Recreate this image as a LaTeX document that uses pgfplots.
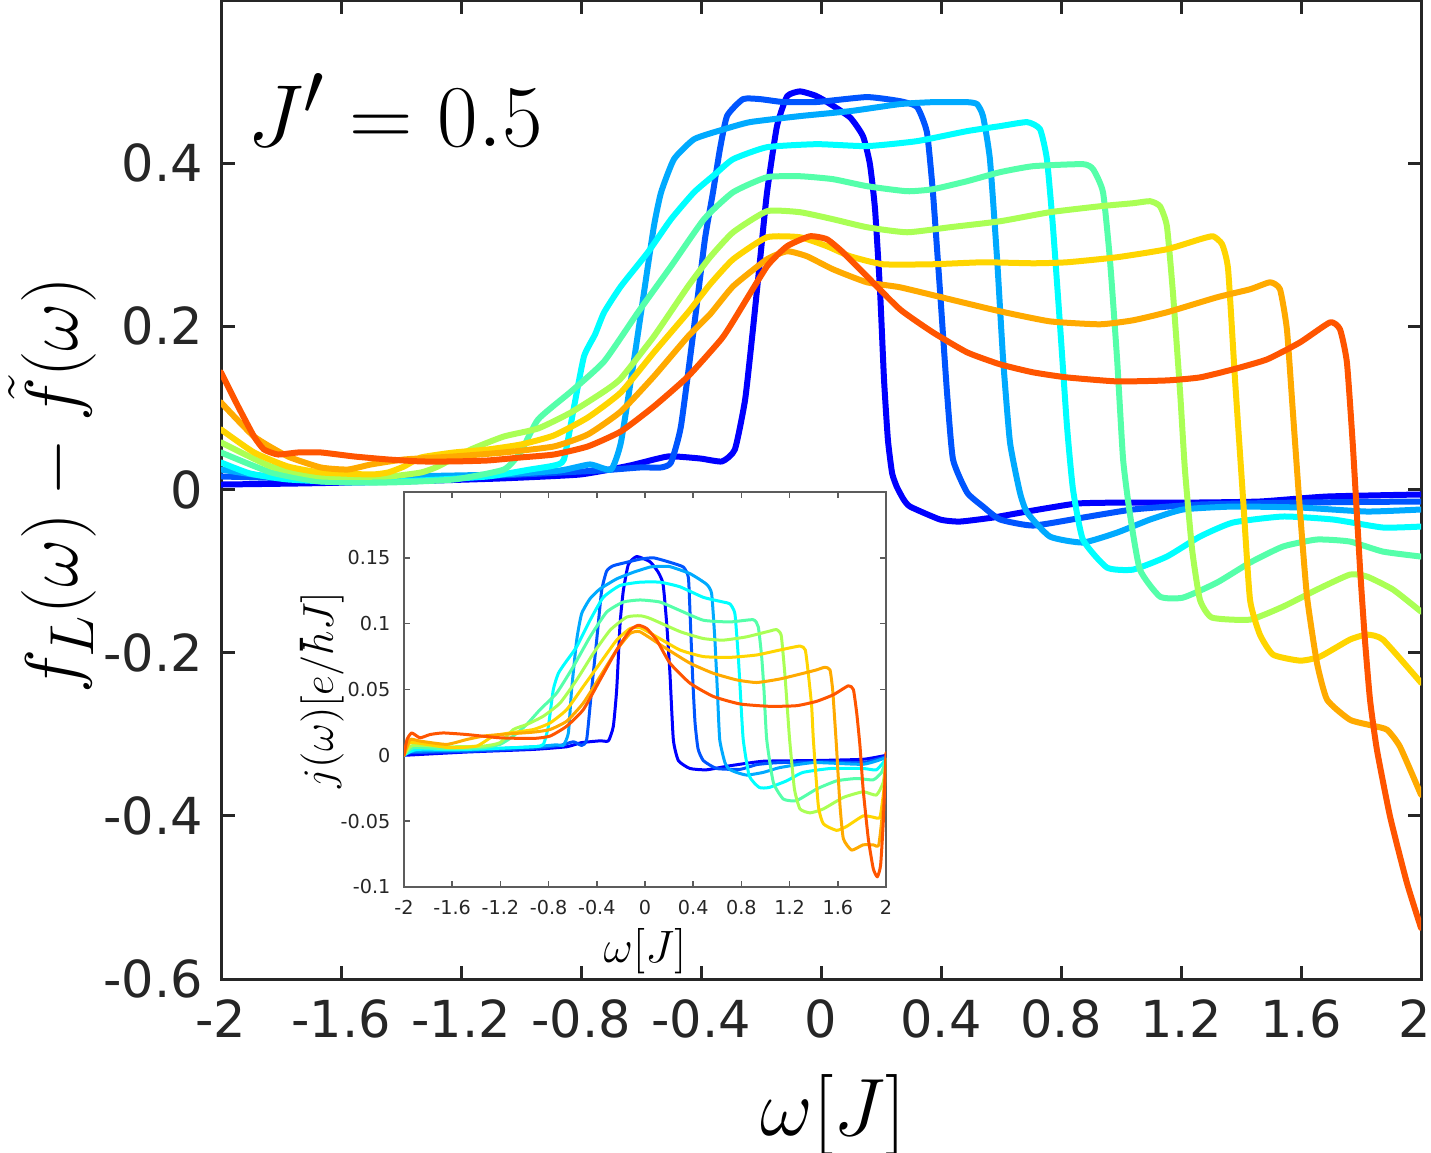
\documentclass[border=0pt]{standalone}
\usepackage{fontspec}
\setmainfont{DejaVu Sans}
\usepackage{pgfplots}
\pgfplotsset{compat=1.18}

\definecolor{axgray}{HTML}{262626}
\definecolor{c1}{RGB}{0,0,255}
\definecolor{c2}{RGB}{0,85,255}
\definecolor{c3}{RGB}{0,170,255}
\definecolor{c4}{RGB}{0,255,255}
\definecolor{c5}{RGB}{85,255,170}
\definecolor{c6}{RGB}{170,255,85}
\definecolor{c7}{RGB}{255,213,0}
\definecolor{c8}{RGB}{255,170,0}
\definecolor{c9}{RGB}{255,85,0}

\begin{document}
\begin{tikzpicture}
% ---------------- main panel: f_L - f~ ----------------
\begin{axis}[
  at={(0pt,0pt)}, anchor=south west,
  scale only axis, width=400pt, height=326.33pt,
  xmin=-2, xmax=2, ymin=-0.6, ymax=0.6,
  xtick={-2,-1.6,-1.2,-0.8,-0.4,0,0.4,0.8,1.2,1.6,2},
  xticklabels={-2,-1.6,-1.2,-0.8,-0.4,0,0.4,0.8,1.2,1.6,\kern-4pt 2},
  ytick={-0.6,-0.4,-0.2,0,0.2,0.4},
  yticklabels={-0.6,-0.4,-0.2,0,0.2,0.4},
  tick align=inside, xtick pos=both, ytick pos=both,
  xticklabel pos=lower, yticklabel pos=left,
  major tick length=4.5pt,
  axis line style={draw=axgray, line width=1pt},
  every tick/.style={draw=axgray, line width=1pt},
  ticklabel style={font=\fontsize{17}{17}\selectfont, text=axgray},
  xticklabel style={yshift=-3.5pt},
  yticklabel style={xshift=-2.5pt},
  xlabel={$\omega[J]$},
  ylabel={$f_L(\omega)-\tilde{f}(\omega)$},
  xlabel style={font=\fontsize{24.88}{25}\selectfont, scale=1.09, at={(rel axis cs:0.51,-0.139)}, anchor=center},
  ylabel style={font=\fontsize{24.88}{25}\selectfont, at={(rel axis cs:-0.1408,0.5046)}, anchor=center},
  every axis plot/.append style={line width=2pt, line join=round, line cap=round, smooth, tension=0.3},
]
\addplot[c1] coordinates {(-2,0.0061) (-1.737,0.0074) (-1.403,0.0098) (-1.07,0.0135) (-0.803,0.0184) (-0.637,0.0294) (-0.51,0.0405) (-0.403,0.038) (-0.33,0.0344) (-0.287,0.0491) (-0.253,0.110) (-0.227,0.196) (-0.203,0.282) (-0.18,0.364) (-0.147,0.445) (-0.113,0.482) (-0.07,0.488) (-0.02,0.483) (0.02,0.475) (0.097,0.456) (0.14,0.433) (0.163,0.399) (0.18,0.344) (0.197,0.242) (0.21,0.135) (0.223,0.061) (0.237,0.02) (0.253,0.003) (0.275,-0.012) (0.297,-0.021) (0.397,-0.0368) (0.463,-0.0393) (0.573,-0.0344) (0.687,-0.027) (0.853,-0.0172) (1.02,-0.016) (1.24,-0.016) (1.463,-0.0147) (1.687,-0.0086) (2.0,-0.0061)};
\addplot[c2] coordinates {(-2,0.016) (-1.737,0.0135) (-1.403,0.0135) (-1.07,0.0172) (-0.737,0.0233) (-0.603,0.027) (-0.533,0.027) (-0.5,0.0331) (-0.467,0.0773) (-0.423,0.2) (-0.387,0.3067) (-0.36,0.3644) (-0.337,0.417) (-0.313,0.458) (-0.26,0.4785) (-0.203,0.4785) (-0.127,0.475) (-0.013,0.475) (0.153,0.481) (0.263,0.476) (0.32,0.469) (0.353,0.438) (0.373,0.3644) (0.397,0.2417) (0.42,0.119) (0.44,0.0368) (0.487,-0.0037) (0.54,-0.0209) (0.597,-0.0368) (0.707,-0.0442) (0.873,-0.0344) (1.04,-0.0245) (1.263,-0.0184) (1.597,-0.016) (2.0,-0.0147)};
\addplot[c3] coordinates {(-2,0.0245) (-1.87,0.0172) (-1.737,0.0147) (-1.403,0.016) (-1.07,0.0184) (-0.87,0.0233) (-0.77,0.0307) (-0.7,0.0245) (-0.667,0.0577) (-0.623,0.1595) (-0.59,0.2417) (-0.557,0.3227) (-0.533,0.3644) (-0.49,0.405) (-0.423,0.4294) (-0.333,0.4405) (-0.237,0.4503) (-0.07,0.4577) (0.097,0.4638) (0.263,0.4724) (0.373,0.4748) (0.487,0.4748) (0.52,0.4724) (0.54,0.4577) (0.563,0.405) (0.587,0.2822) (0.607,0.1595) (0.63,0.0577) (0.663,-0.0037) (0.687,-0.0282) (0.763,-0.0577) (0.873,-0.065) (0.987,-0.0528) (1.097,-0.0368) (1.207,-0.0245) (1.373,-0.0209) (1.597,-0.0221) (1.82,-0.027) (2.0,-0.0245)};
\addplot[c4] coordinates {(-2,0.0331) (-1.903,0.0196) (-1.777,0.0123) (-1.557,0.0086) (-1.337,0.011) (-1.11,0.016) (-0.97,0.0245) (-0.89,0.0294) (-0.857,0.0368) (-0.823,0.1018) (-0.79,0.1632) (-0.753,0.1902) (-0.723,0.2172) (-0.667,0.2491) (-0.577,0.2908) (-0.5,0.3313) (-0.423,0.3644) (-0.353,0.3865) (-0.293,0.4049) (-0.18,0.4196) (-0.013,0.4233) (0.153,0.4209) (0.32,0.427) (0.487,0.4393) (0.597,0.4454) (0.687,0.4503) (0.73,0.4417) (0.753,0.405) (0.773,0.3227) (0.797,0.2) (0.82,0.0773) (0.84,0.0) (0.873,-0.0613) (0.953,-0.0957) (1.04,-0.0982) (1.153,-0.0822) (1.263,-0.0577) (1.373,-0.0405) (1.54,-0.0331) (1.707,-0.0368) (1.873,-0.0466) (2.0,-0.0454)};
\addplot[c5] coordinates {(-2,0.0454) (-1.833,0.0209) (-1.667,0.0098) (-1.443,0.0086) (-1.223,0.0123) (-1.057,0.0245) (-1.0,0.0466) (-0.943,0.0859) (-0.833,0.1202) (-0.723,0.157) (-0.61,0.2172) (-0.5,0.2736) (-0.39,0.3313) (-0.293,0.3644) (-0.18,0.3828) (-0.07,0.384) (0.04,0.3804) (0.153,0.3718) (0.287,0.3656) (0.373,0.3681) (0.487,0.3779) (0.597,0.389) (0.707,0.3963) (0.873,0.3988) (0.907,0.3926) (0.94,0.3644) (0.963,0.2822) (0.987,0.1595) (1.007,0.0368) (1.03,-0.0307) (1.063,-0.0982) (1.13,-0.1313) (1.207,-0.1325) (1.32,-0.1141) (1.43,-0.0896) (1.54,-0.0699) (1.653,-0.0613) (1.763,-0.0638) (1.873,-0.0761) (2.0,-0.0822)};
\addplot[c6] coordinates {(-2,0.0577) (-1.833,0.0282) (-1.667,0.016) (-1.443,0.016) (-1.333,0.0209) (-1.277,0.0282) (-1.167,0.0491) (-1.057,0.065) (-0.943,0.0748) (-0.833,0.0945) (-0.723,0.1202) (-0.667,0.1362) (-0.557,0.1877) (-0.443,0.2491) (-0.37,0.2847) (-0.293,0.3153) (-0.18,0.3411) (-0.07,0.3399) (0.04,0.3313) (0.153,0.3215) (0.287,0.3153) (0.43,0.3215) (0.597,0.3288) (0.763,0.3399) (0.93,0.3472) (1.04,0.3509) (1.097,0.3534) (1.13,0.3472) (1.153,0.3227) (1.173,0.2417) (1.197,0.119) (1.213,0.0245) (1.237,-0.0736) (1.263,-0.135) (1.303,-0.157) (1.43,-0.1595) (1.54,-0.1436) (1.653,-0.1227) (1.763,-0.1043) (1.82,-0.1067) (1.907,-0.1227) (2.0,-0.1497)};
\addplot[c7] coordinates {(-2,0.0736) (-1.89,0.0454) (-1.777,0.0282) (-1.667,0.0209) (-1.5,0.0184) (-1.443,0.0209) (-1.39,0.0282) (-1.333,0.0393) (-1.223,0.0454) (-1.11,0.0491) (-1.0,0.0552) (-0.89,0.0663) (-0.777,0.0883) (-0.667,0.119) (-0.557,0.1681) (-0.443,0.2172) (-0.37,0.2515) (-0.293,0.2822) (-0.18,0.3092) (-0.07,0.3092) (0.02,0.2982) (0.097,0.2859) (0.207,0.2761) (0.373,0.2761) (0.54,0.2785) (0.707,0.2773) (0.82,0.2785) (0.987,0.2847) (1.153,0.2945) (1.263,0.3067) (1.307,0.3104) (1.337,0.3006) (1.357,0.2699) (1.38,0.135) (1.407,-0.012) (1.43,-0.135) (1.463,-0.1779) (1.507,-0.2025) (1.597,-0.2098) (1.663,-0.2049) (1.763,-0.184) (1.82,-0.1779) (1.873,-0.184) (2.0,-0.2368)};
\addplot[c8] coordinates {(-2,0.1067) (-1.89,0.065) (-1.777,0.0405) (-1.667,0.027) (-1.577,0.0245) (-1.5,0.0307) (-1.39,0.0368) (-1.223,0.0405) (-1.057,0.0454) (-0.89,0.0528) (-0.777,0.0675) (-0.667,0.0957) (-0.557,0.1387) (-0.443,0.1877) (-0.37,0.2147) (-0.293,0.2491) (-0.18,0.2822) (-0.113,0.292) (-0.047,0.2859) (0.04,0.2699) (0.153,0.254) (0.263,0.2479) (0.43,0.2331) (0.597,0.2184) (0.763,0.2061) (0.93,0.2025) (1.04,0.2074) (1.153,0.2172) (1.32,0.2356) (1.43,0.2454) (1.497,0.254) (1.53,0.2454) (1.553,0.1963) (1.573,0.0945) (1.597,-0.0282) (1.62,-0.1313) (1.653,-0.2123) (1.687,-0.2577) (1.763,-0.2822) (1.84,-0.2896) (1.887,-0.2945) (1.93,-0.3153) (2.0,-0.3742)};
\addplot[c9] coordinates {(-2,0.1436) (-1.943,0.1018) (-1.89,0.065) (-1.857,0.0491) (-1.81,0.0429) (-1.743,0.0454) (-1.667,0.0454) (-1.557,0.0405) (-1.443,0.0368) (-1.333,0.0344) (-1.223,0.0344) (-1.11,0.0356) (-1.0,0.0393) (-0.89,0.0429) (-0.777,0.0528) (-0.667,0.0712) (-0.557,0.1018) (-0.443,0.1387) (-0.333,0.184) (-0.293,0.2061) (-0.18,0.2736) (-0.113,0.2982) (-0.037,0.3104) (0.02,0.3067) (0.073,0.2908) (0.153,0.2613) (0.263,0.2209) (0.373,0.1926) (0.487,0.1681) (0.597,0.1534) (0.707,0.1436) (0.82,0.1374) (0.987,0.1325) (1.153,0.1337) (1.263,0.1374) (1.373,0.1472) (1.487,0.1595) (1.597,0.1804) (1.697,0.2049) (1.73,0.1963) (1.753,0.1558) (1.773,0.0528) (1.797,-0.0982) (1.813,-0.184) (1.83,-0.2577) (1.853,-0.319) (1.897,-0.4012) (1.953,-0.4822) (2.0,-0.5374)};
\node[anchor=base, font=\fontsize{24.88}{25}\selectfont, scale=1.18] at (axis cs:-1.42,0.42) {$J'=0.5$};
\end{axis}

% ---------------- inset: current density ----------------
\begin{axis}[
  at={(61pt,30.67pt)}, anchor=south west,
  scale only axis, width=160.67pt, height=131.67pt,
  axis background/.style={fill=white},
  xmin=-2, xmax=2, ymin=-0.1, ymax=0.2,
  xtick={-2,-1.6,-1.2,-0.8,-0.4,0,0.4,0.8,1.2,1.6,2},
  xticklabels={-2,-1.6,-1.2,-0.8,-0.4,0,0.4,0.8,1.2,1.6,2},
  ytick={-0.1,-0.05,0,0.05,0.1,0.15},
  yticklabels={-0.1,-0.05,0,0.05,0.1,0.15},
  tick align=inside, xtick pos=both, ytick pos=both,
  xticklabel pos=lower, yticklabel pos=left,
  major tick length=2pt,
  axis line style={draw=axgray!75, line width=0.5pt},
  every tick/.style={draw=axgray!75, line width=0.5pt},
  ticklabel style={font=\fontsize{6.4}{6.4}\selectfont, text=axgray},
  xticklabel style={yshift=-0.8pt},
  yticklabel style={xshift=-1pt},
  xlabel={$\omega[J]$},
  ylabel={$j(\omega)[e/\hbar J]$},
  xlabel style={font=\fontsize{14.4}{15}\selectfont, scale=1.05, at={(rel axis cs:0.5,-0.162)}, anchor=center},
  ylabel style={font=\fontsize{14.4}{15}\selectfont, at={(rel axis cs:-0.17,0.499)}, anchor=center},
  every axis plot/.append style={line width=1pt, line join=round, line cap=round, smooth, tension=0.3},
]
\addplot[c1] coordinates {(-2,0) (-1.48,0.0025) (-0.927,0.0045) (-0.65,0.0065) (-0.53,0.0096) (-0.373,0.011) (-0.304,0.011) (-0.263,0.022) (-0.235,0.050) (-0.207,0.100) (-0.18,0.125) (-0.138,0.145) (-0.069,0.151) (0.042,0.147) (0.11,0.139) (0.15,0.130) (0.18,0.100) (0.207,0.062) (0.235,0.012) (0.277,-0.004) (0.373,-0.010) (0.51,-0.011) (0.70,-0.008) (0.98,-0.0045) (1.39,-0.004) (1.81,-0.003) (2.0,0)};
\addplot[c2] coordinates {(-2,0) (-1.94,0.002) (-1.48,0.003) (-0.927,0.0053) (-0.705,0.0075) (-0.594,0.0103) (-0.526,0.0075) (-0.484,0.012) (-0.443,0.050) (-0.401,0.0875) (-0.36,0.125) (-0.318,0.140) (-0.263,0.144) (-0.152,0.1466) (-0.041,0.149) (0.07,0.150) (0.207,0.1466) (0.318,0.143) (0.36,0.135) (0.375,0.105) (0.395,0.06) (0.415,0.025) (0.44,0.005) (0.484,-0.004) (0.595,-0.010) (0.79,-0.0106) (0.93,-0.007) (1.12,-0.0055) (1.54,-0.005) (1.81,-0.0055) (2.0,-0.001)};
\addplot[c3] coordinates {(-2,0) (-1.94,0.003) (-1.48,0.004) (-0.927,0.0065) (-0.733,0.008) (-0.678,0.0075) (-0.636,0.017) (-0.609,0.050) (-0.567,0.0875) (-0.526,0.1076) (-0.456,0.119) (-0.373,0.1264) (-0.235,0.134) (-0.097,0.139) (0.042,0.143) (0.124,0.1435) (0.207,0.1433) (0.373,0.138) (0.51,0.130) (0.553,0.1227) (0.58,0.0875) (0.6,0.05) (0.62,0.012) (0.663,-0.0055) (0.70,-0.0106) (0.76,-0.013) (0.845,-0.015) (0.98,-0.013) (1.12,-0.0093) (1.40,-0.0055) (1.81,-0.0068) (2.0,-0.0018)};
\addplot[c4] coordinates {(-2,0) (-1.895,0.0045) (-1.48,0.0045) (-0.927,0.0065) (-0.844,0.0083) (-0.802,0.022) (-0.761,0.050) (-0.719,0.0623) (-0.664,0.070) (-0.567,0.0825) (-0.456,0.1026) (-0.346,0.120) (-0.207,0.129) (-0.041,0.1315) (0.124,0.1315) (0.29,0.128) (0.484,0.120) (0.65,0.1164) (0.705,0.115) (0.746,0.1076) (0.774,0.075) (0.79,0.050) (0.815,0.012) (0.865,-0.0156) (0.948,-0.0244) (1.03,-0.0244) (1.175,-0.0194) (1.31,-0.013) (1.54,-0.010) (1.81,-0.010) (1.92,-0.011) (2.0,-0.003)};
\addplot[c5] coordinates {(-2,0) (-1.923,0.0058) (-1.618,0.005) (-1.342,0.0058) (-1.203,0.0083) (-1.093,0.0146) (-0.982,0.0234) (-0.871,0.0347) (-0.733,0.0473) (-0.595,0.0674) (-0.456,0.090) (-0.318,0.1088) (-0.18,0.1164) (-0.041,0.118) (0.124,0.1164) (0.29,0.110) (0.484,0.1026) (0.705,0.1013) (0.898,0.103) (0.94,0.0975) (0.968,0.075) (0.987,0.050) (1.01,0.012) (1.065,-0.0206) (1.148,-0.0332) (1.258,-0.0344) (1.424,-0.0256) (1.59,-0.0194) (1.755,-0.0176) (1.894,-0.0186) (1.963,-0.013) (2.0,-0.003)};
\addplot[c6] coordinates {(-2,0) (-1.93,0.0075) (-1.618,0.0065) (-1.342,0.007) (-1.203,0.0096) (-1.093,0.0196) (-0.982,0.0234) (-0.844,0.0297) (-0.705,0.0397) (-0.567,0.0573) (-0.429,0.0774) (-0.29,0.095) (-0.152,0.105) (-0.041,0.106) (0.042,0.104) (0.29,0.094) (0.484,0.0887) (0.65,0.0875) (0.843,0.090) (1.04,0.0945) (1.09,0.0955) (1.13,0.0912) (1.16,0.0623) (1.18,0.0372) (1.2,0.012) (1.24,-0.0256) (1.286,-0.0407) (1.37,-0.0437) (1.48,-0.0407) (1.646,-0.032) (1.81,-0.0277) (1.92,-0.0302) (1.977,-0.0206) (2.0,-0.003)};
\addplot[c7] coordinates {(-2,0) (-1.95,0.0096) (-1.812,0.0083) (-1.618,0.0058) (-1.397,0.007) (-1.259,0.0146) (-1.12,0.017) (-0.927,0.0196) (-0.788,0.0246) (-0.65,0.0347) (-0.512,0.0523) (-0.373,0.070) (-0.235,0.0875) (-0.124,0.0963) (-0.041,0.097) (0.097,0.090) (0.29,0.080) (0.484,0.075) (0.705,0.0744) (0.926,0.0762) (1.12,0.080) (1.286,0.083) (1.33,0.080) (1.355,0.0623) (1.383,0.0372) (1.397,0.012) (1.438,-0.038) (1.48,-0.052) (1.59,-0.057) (1.673,-0.054) (1.81,-0.046) (1.894,-0.047) (1.95,-0.047) (1.983,-0.0256) (2.0,-0.003)};
\addplot[c8] coordinates {(-2,0) (-1.95,0.012) (-1.867,0.0108) (-1.646,0.0083) (-1.48,0.012) (-1.342,0.0146) (-1.203,0.0158) (-0.927,0.0176) (-0.788,0.0196) (-0.65,0.0259) (-0.512,0.0397) (-0.373,0.0598) (-0.235,0.080) (-0.124,0.0925) (-0.041,0.0938) (0.152,0.0825) (0.373,0.070) (0.567,0.0623) (0.76,0.0573) (0.926,0.0553) (1.12,0.058) (1.314,0.0623) (1.424,0.0649) (1.493,0.0669) (1.535,0.0649) (1.557,0.050) (1.576,0.0246) (1.59,0.005) (1.618,-0.038) (1.646,-0.0633) (1.715,-0.072) (1.81,-0.068) (1.894,-0.068) (1.94,-0.068) (1.977,-0.038) (2.0,-0.003)};
\addplot[c9] coordinates {(-2,0) (-1.975,0.012) (-1.936,0.017) (-1.867,0.0133) (-1.784,0.0158) (-1.674,0.017) (-1.48,0.0158) (-1.203,0.0133) (-0.927,0.0128) (-0.788,0.0146) (-0.65,0.0221) (-0.512,0.0347) (-0.373,0.0573) (-0.235,0.080) (-0.124,0.095) (-0.055,0.0988) (0.014,0.0963) (0.097,0.0875) (0.207,0.070) (0.373,0.0548) (0.567,0.0447) (0.788,0.039) (1.037,0.0372) (1.258,0.0377) (1.424,0.041) (1.563,0.046) (1.687,0.0528) (1.729,0.050) (1.757,0.032) (1.784,0.007) (1.81,-0.0256) (1.853,-0.0633) (1.894,-0.086) (1.928,-0.0923) (1.955,-0.0835) (1.977,-0.051) (2.0,0.002)};
\end{axis}
\pgfresetboundingbox
\useasboundingbox (-73.67pt,-57.67pt) rectangle (403.33pt,326.33pt);
\end{tikzpicture}
\end{document}
